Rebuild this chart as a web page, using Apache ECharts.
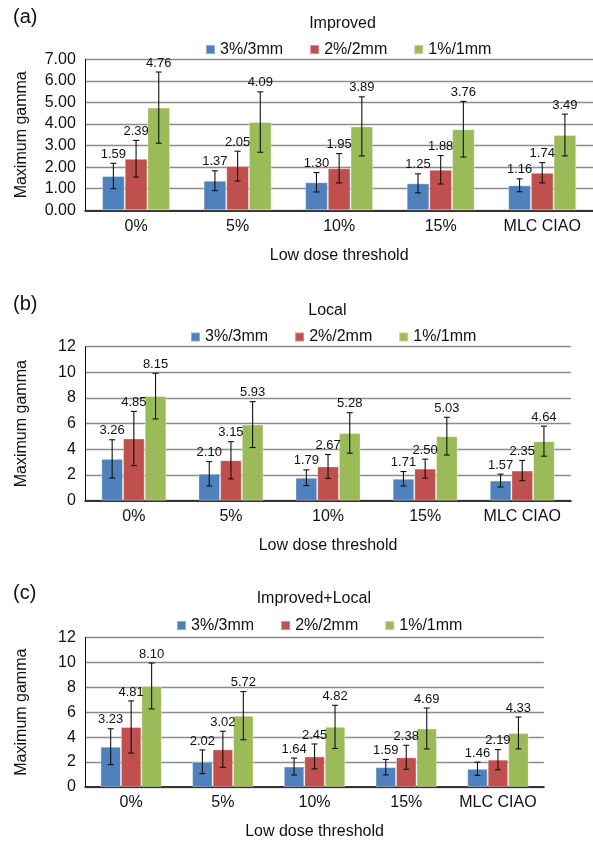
<!DOCTYPE html>
<html>
<head>
<meta charset="utf-8">
<script src="https://cdn.jsdelivr.net/npm/echarts@6/dist/echarts.min.js"></script>
<style>
html,body{margin:0;padding:0;background:#fff;}
#chart{width:593px;height:841px;}
</style>
</head>
<body>
<div id="chart"></div>
<script>
// ---- data ----
const categories = ['0%', '5%', '10%', '15%', 'MLC CIAO'];
const seriesNames = ['3%/3mm', '2%/2mm', '1%/1mm'];
const panelTitles = ['Improved', 'Local', 'Improved+Local'];
const panelLetters = ['(a)', '(b)', '(c)'];

// (a) Improved
const improved3 = [1.59, 1.37, 1.30, 1.25, 1.16];
const improved2 = [2.39, 2.05, 1.95, 1.88, 1.74];
const improved1 = [4.76, 4.09, 3.89, 3.76, 3.49];
const improved3Err = [0.59, 0.46, 0.45, 0.44, 0.30];
const improved2Err = [0.85, 0.69, 0.68, 0.66, 0.47];
const improved1Err = [1.65, 1.40, 1.37, 1.29, 0.97];

// (b) Local
const local3 = [3.26, 2.10, 1.79, 1.71, 1.57];
const local2 = [4.85, 3.15, 2.67, 2.50, 2.35];
const local1 = [8.15, 5.93, 5.28, 5.03, 4.64];
const local3Err = [1.49, 0.95, 0.61, 0.56, 0.50];
const local2Err = [2.11, 1.45, 0.93, 0.74, 0.79];
const local1Err = [1.78, 1.79, 1.58, 1.47, 1.17];

// (c) Improved+Local
const impLocal3 = [3.23, 2.02, 1.64, 1.59, 1.46];
const impLocal2 = [4.81, 3.02, 2.45, 2.38, 2.19];
const impLocal1 = [8.10, 5.72, 4.82, 4.69, 4.33];
const impLocal3Err = [1.44, 0.95, 0.68, 0.62, 0.53];
const impLocal2Err = [2.09, 1.45, 1.00, 0.96, 0.81];
const impLocal1Err = [1.84, 1.93, 1.73, 1.64, 1.28];

// ---- layout / style ----
const colors = ['#4F81BD', '#C0504D', '#9BBB59'];
const FONT = '"Liberation Sans", Arial, Helvetica, sans-serif';
const CAT_GAP = 0.33;

const panelValues = [
  [improved3, improved2, improved1],
  [local3, local2, local1],
  [impLocal3, impLocal2, impLocal1]
];
const panelErrors = [
  [improved3Err, improved2Err, improved1Err],
  [local3Err, local2Err, local1Err],
  [impLocal3Err, impLocal2Err, impLocal1Err]
];
const grids = [
  {left: 85.3, top: 59.3, width: 517, height: 151},
  {left: 85.3, top: 346.7, width: 485.5, height: 154},
  {left: 85.3, top: 637.3, width: 458.5, height: 150}
];
const yMax = [7, 12, 12];
const yInterval = [1, 2, 2];
const yDecimals = [2, 0, 0];
const titlePos = [[342.5, 24], [327.4, 310.7], [313.8, 598.3]];
const letterPos = [[13, 17.3], [13, 304], [13, 593.3]];
const legendPos = [[200, 36.5], [185, 324], [171, 612.5]];

const chart = echarts.init(document.getElementById('chart'), null, {renderer: 'canvas'});

const xAxes = [], yAxes = [], series = [], legends = [], graphics = [];

function errSeries(p, s, vals, errs) {
  return {
    type: 'custom',
    xAxisIndex: p, yAxisIndex: p,
    z: 10, silent: true,
    data: vals.map((v, i) => [i, v, errs[i]]),
    encode: {x: 0, y: 1},
    renderItem: function (params, api) {
      const i = api.value(0), v = api.value(1), e = api.value(2);
      const band = api.size([1, 0])[0];
      const bw = band * (1 - CAT_GAP) / 3;
      const c = api.coord([i, v]);
      const x = c[0] - 1.5 * bw + bw / 2 + s * bw;
      const yTop = api.coord([i, v + e])[1];
      const yBot = api.coord([i, v - e])[1];
      const cap = 3;
      const ls = {stroke: '#111', lineWidth: 1.1};
      return {
        type: 'group',
        children: [
          {type: 'line', shape: {x1: x, y1: yTop, x2: x, y2: yBot}, style: ls},
          {type: 'line', shape: {x1: x - cap, y1: yTop, x2: x + cap, y2: yTop}, style: ls},
          {type: 'line', shape: {x1: x - cap, y1: yBot, x2: x + cap, y2: yBot}, style: ls},
          {type: 'text', x: x, y: yTop - 2.5,
            style: {text: v.toFixed(2), textAlign: 'center', textVerticalAlign: 'bottom',
              font: '13px ' + FONT, fill: '#111'}}
        ]
      };
    }
  };
}

for (let p = 0; p < 3; p++) {
  xAxes.push({
    type: 'category', gridIndex: p, data: categories,
    axisTick: {show: false},
    axisLine: {lineStyle: {color: '#333', width: 2}},
    axisLabel: {interval: 0, fontSize: 16, fontFamily: FONT, color: '#111', margin: 8},
    name: 'Low dose threshold', nameLocation: 'middle', nameGap: 37,
    nameTextStyle: {fontSize: 16, fontFamily: FONT, color: '#111'}
  });
  yAxes.push({
    type: 'value', gridIndex: p, min: 0, max: yMax[p], interval: yInterval[p],
    axisLine: {show: true, lineStyle: {color: '#111', width: 1}},
    axisTick: {show: false},
    splitLine: {lineStyle: {color: '#8c8c8c', width: 1.3}},
    axisLabel: {fontSize: 16, fontFamily: FONT, color: '#111', margin: 9.5,
      formatter: (function (d) { return function (v) { return v.toFixed(d); }; })(yDecimals[p])},
    name: 'Maximum gamma', nameLocation: 'middle', nameGap: 56, nameRotate: 90,
    nameTextStyle: {fontSize: 16, fontFamily: FONT, color: '#111'}
  });
  for (let s = 0; s < 3; s++) {
    series.push({
      type: 'bar', name: seriesNames[s], xAxisIndex: p, yAxisIndex: p,
      data: panelValues[p][s],
      barGap: '0%', barCategoryGap: (CAT_GAP * 100) + '%',
      itemStyle: {color: colors[s], borderColor: 'rgba(255,255,255,0.35)', borderWidth: 1},
      silent: true
    });
  }
  for (let s = 0; s < 3; s++) {
    series.push(errSeries(p, s, panelValues[p][s], panelErrors[p][s]));
  }
  legends.push({
    data: seriesNames, left: legendPos[p][0], top: legendPos[p][1],
    orient: 'horizontal', icon: 'rect', itemWidth: 9, itemHeight: 9, itemGap: 26,
    selectedMode: false,
    textStyle: {fontSize: 16, fontFamily: FONT, color: '#111'}
  });
  graphics.push({
    type: 'text', x: titlePos[p][0], y: titlePos[p][1],
    style: {text: panelTitles[p], textAlign: 'center', textVerticalAlign: 'middle',
      font: '16px ' + FONT, fill: '#111'}
  });
  graphics.push({
    type: 'text', x: letterPos[p][0], y: letterPos[p][1],
    style: {text: panelLetters[p], textAlign: 'left', textVerticalAlign: 'middle',
      font: '20px ' + FONT, fill: '#111'}
  });
}

chart.setOption({
  animation: false,
  backgroundColor: '#fff',
  grid: grids.map(g => Object.assign({containLabel: false}, g)),
  xAxis: xAxes,
  yAxis: yAxes,
  legend: legends,
  series: series,
  graphic: graphics
});
</script>
</body>
</html>
